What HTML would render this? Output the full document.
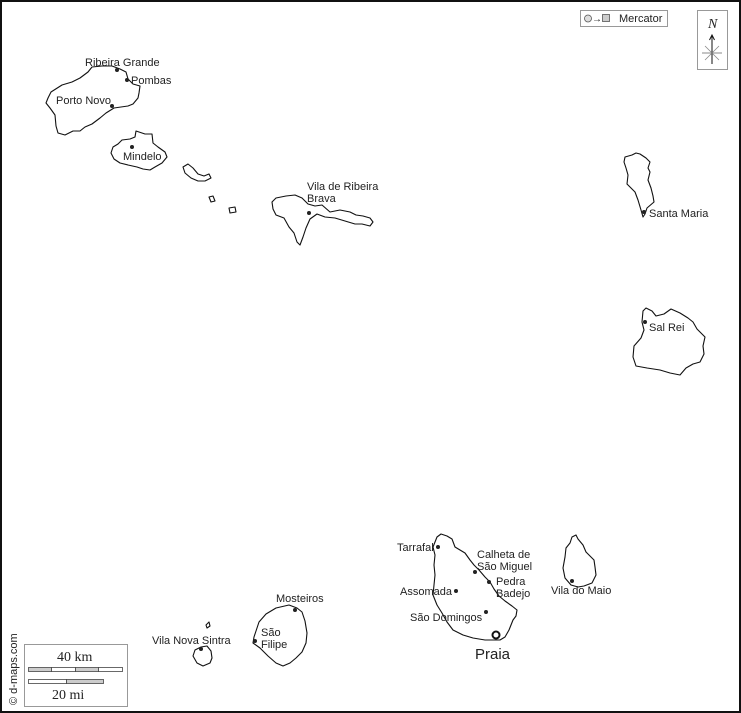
<!DOCTYPE html>
<html><head><meta charset="utf-8"><style>
html,body{margin:0;padding:0;background:#fff}
svg{display:block}
text{font-family:"Liberation Sans",sans-serif;font-size:11px;fill:#222}
</style></head><body>
<svg width="741" height="713" viewBox="0 0 741 713" xmlns="http://www.w3.org/2000/svg">
<rect x="1" y="1" width="739" height="711" fill="#fff" stroke="#111" stroke-width="2"/>
<g fill="none" stroke="#111" stroke-width="1.1" stroke-linejoin="round">
<!-- Santo Antao -->
<path d="M48,98 L51,92 L62,85 L72,82 L80,78 L88,72 L92,67 L102,66 L112,66 L120,69 L126,72 L128,79 L133,84 L140,86 L139,93 L138,98 L133,104 L128,106 L114,108 L106,113 L100,118 L92,124 L85,127 L80,131 L73,131 L65,135 L58,133 L56,126 L55,115 L50,108 L46,103 Z"/>
<!-- Sao Vicente -->
<path d="M113,147 L118,144 L122,140 L130,139 L135,137 L136,131 L145,134 L152,134 L153,143 L158,147 L165,152 L167,157 L162,163 L155,167 L150,170 L143,169 L137,167 L128,165 L120,163 L114,159 L111,153 Z"/>
<!-- Santa Luzia -->
<path d="M183,167 L188,164 L193,168 L198,174 L204,176 L209,174 L211,178 L205,181 L198,181 L191,178 L185,173 Z"/>
<path d="M209,197 L213,196 L215,201 L211,202 Z"/>
<path d="M229,208 L235,207 L236,212 L230,213 Z"/>
<!-- Sao Nicolau -->
<path d="M272,202 L276,198 L286,196 L295,195 L302,198 L308,204 L315,206 L322,205 L330,212 L340,210 L350,212 L356,215 L363,216 L370,218 L373,222 L370,226 L362,224 L355,224 L345,221 L335,218 L325,217 L317,214 L310,219 L306,228 L303,237 L300,245 L297,242 L294,233 L289,227 L284,218 L276,215 L273,209 Z"/>
<!-- Sal -->
<path d="M625,157 L632,155 L636,153 L640,154 L646,158 L650,162 L648,168 L650,172 L648,180 L651,188 L653,196 L654,202 L647,208 L645,214 L643,217 L641,210 L638,200 L635,192 L631,188 L627,184 L628,175 L626,168 L624,162 Z"/>
<!-- Boa Vista -->
<path d="M643,311 L646,308 L652,311 L656,316 L664,314 L671,309 L680,313 L688,318 L693,322 L697,329 L705,337 L703,346 L704,354 L700,362 L693,364 L686,368 L680,375 L670,373 L660,370 L647,368 L636,366 L633,357 L634,346 L641,338 L644,330 L642,322 Z"/>
<!-- Santiago -->
<path d="M437,537 L441,534 L447,536 L452,539 L455,547 L460,550 L465,553 L470,560 L474,565 L479,570 L485,577 L490,582 L494,589 L499,596 L505,601 L512,606 L517,610 L516,616 L513,620 L509,630 L505,637 L500,640 L493,640 L485,640 L473,638 L463,635 L453,630 L447,622 L442,613 L437,605 L433,595 L434,585 L435,575 L434,565 L435,555 L433,547 Z"/>
<!-- Maio -->
<path d="M572,537 L576,535 L578,539 L583,545 L586,552 L594,560 L595,567 L596,575 L592,583 L584,586 L578,587 L571,585 L565,578 L563,568 L565,557 L566,548 L570,543 Z"/>
<!-- Fogo -->
<path d="M256,631 L259,622 L266,614 L276,608 L289,605 L297,608 L302,612 L305,621 L307,633 L306,643 L302,652 L296,658 L290,663 L283,666 L276,663 L268,656 L260,648 L253,643 L254,637 Z"/>
<!-- Brava -->
<path d="M195,650 L201,647 L207,646 L211,651 L212,658 L210,663 L203,666 L197,663 L193,656 Z"/>
<path d="M206,625 L209,622 L210,626 L207,628 Z"/>
</g>
<g fill="#222">
<circle cx="117" cy="70" r="2"/><circle cx="127" cy="80" r="2"/><circle cx="112" cy="106" r="2"/>
<circle cx="132" cy="147" r="2"/><circle cx="309" cy="213" r="2"/><circle cx="644" cy="212" r="2"/>
<circle cx="645" cy="322" r="2"/><circle cx="438" cy="547" r="2"/><circle cx="475" cy="572" r="2"/>
<circle cx="489" cy="582" r="2"/><circle cx="456" cy="591" r="2"/><circle cx="486" cy="612" r="2"/>
<circle cx="572" cy="581" r="2"/><circle cx="295" cy="610" r="2"/><circle cx="255" cy="641" r="2"/>
<circle cx="201" cy="649" r="2"/>
</g>
<circle cx="496" cy="635" r="3.5" fill="none" stroke="#111" stroke-width="2"/>
<text x="85" y="66">Ribeira Grande</text>
<text x="131" y="84">Pombas</text>
<text x="56" y="104">Porto Novo</text>
<text x="123" y="160">Mindelo</text>
<text x="307" y="190">Vila de Ribeira</text>
<text x="307" y="202">Brava</text>
<text x="649" y="217">Santa Maria</text>
<text x="649" y="331">Sal Rei</text>
<text x="397" y="551">Tarrafal</text>
<text x="477" y="558">Calheta de</text>
<text x="477" y="570">São Miguel</text>
<text x="496" y="585">Pedra</text>
<text x="496" y="597">Badejo</text>
<text x="400" y="595">Assomada</text>
<text x="410" y="621">São Domingos</text>
<text x="475" y="659" style="font-size:15px">Praia</text>
<text x="551" y="594">Vila do Maio</text>
<text x="276" y="602">Mosteiros</text>
<text x="261" y="636">São</text>
<text x="261" y="648">Filipe</text>
<text x="152" y="644">Vila Nova Sintra</text>
<!-- legend -->
<rect x="580.5" y="10.5" width="87" height="16" fill="#fff" stroke="#999"/>
<circle cx="588" cy="18.5" r="3.5" fill="#ddd" stroke="#555" stroke-width="0.8"/>
<text x="592" y="22" style="font-size:10px">→</text>
<rect x="602.5" y="14.5" width="7" height="7" fill="#ccc" stroke="#555" stroke-width="0.8"/>
<text x="619" y="22" style="font-size:11px">Mercator</text>
<rect x="697.5" y="10.5" width="30" height="59" fill="#fff" stroke="#999"/>
<text x="708" y="28" style="font-family:'Liberation Serif',serif;font-style:italic;font-size:14px">N</text>
<line x1="712" y1="36" x2="712" y2="64" stroke="#111" stroke-width="1"/>
<path d="M709.5,40 L712,35 L714.5,40" fill="none" stroke="#111" stroke-width="1"/>
<line x1="702" y1="53" x2="722" y2="53" stroke="#888" stroke-width="1"/>
<line x1="705" y1="46" x2="719" y2="60" stroke="#888" stroke-width="0.8"/>
<line x1="719" y1="46" x2="705" y2="60" stroke="#888" stroke-width="0.8"/>
<!-- scale -->
<rect x="24.5" y="644.5" width="103" height="62" fill="#fff" stroke="#999"/>
<text x="57" y="661" style="font-family:'Liberation Serif',serif;font-size:14px">40 km</text>
<g stroke="#444" stroke-width="0.8">
<rect x="28.5" y="667.5" width="23" height="4" fill="#ccc"/>
<rect x="51.5" y="667.5" width="24" height="4" fill="#fff"/>
<rect x="75.5" y="667.5" width="23" height="4" fill="#ccc"/>
<rect x="98.5" y="667.5" width="24" height="4" fill="#fff"/>
<rect x="28.5" y="679.5" width="38" height="4" fill="#fff"/>
<rect x="66.5" y="679.5" width="37" height="4" fill="#ccc"/>
</g>
<text x="52" y="699" style="font-family:'Liberation Serif',serif;font-size:14px">20 mi</text>
<text transform="translate(17,705) rotate(-90)" style="font-size:11px">© d-maps.com</text>
</svg>
</body></html>
